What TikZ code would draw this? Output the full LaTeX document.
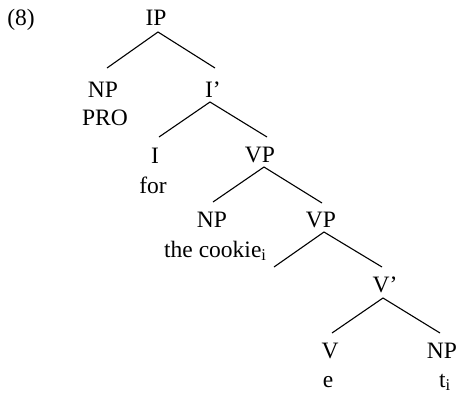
\documentclass[tikz,border=0pt]{standalone}
\usepackage{fontspec}
\setmainfont{Liberation Serif}
\begin{document}
\begin{tikzpicture}[x=1pt,y=-1pt,
  lab/.style={anchor=base, inner sep=0pt, font=\fontsize{23.5}{28}\selectfont},
  labw/.style={lab, anchor=base west},
  branch/.style={line width=1.1pt}]
\useasboundingbox (0,0) rectangle (459,397);

% example number
\node[lab] (num) at (21,25) {(8)};

% labels
\node[lab] (ip)   at (156,25)  {IP};
\node[lab] (np1)  at (103,97)  {NP};
\node[lab] (pro)  at (105,125) {PRO};
\node[lab] (ib)   at (213,97)  {I’};
\node[lab] (i)    at (155,163) {I};
\node[lab] (for)  at (153,193) {for};
\node[lab] (vp1)  at (260,162) {VP};
\node[lab] (np2)  at (212,227) {NP};
\node[labw] (cookie) at (164,257) {the cookie\textsubscript{i}};
\node[lab] (vp2)  at (321,227) {VP};
\node[lab] (vb)   at (385,292) {V’};
\node[lab] (v)    at (330,358) {V};
\node[lab] (np3)  at (442,358) {NP};
\node[lab] (e)    at (328,387) {e};
\node[labw] (t)   at (439,387) {t\textsubscript{i}};

% branch end points
\coordinate (ip-b)  at (158,32);
\coordinate (np1-t) at (107,68);
\coordinate (ib-t)  at (215,68);
\coordinate (ib-b)  at (210,102);
\coordinate (i-t)   at (159,137);
\coordinate (vp1-t) at (267,137);
\coordinate (vp1-b) at (264,167);
\coordinate (np2-t) at (213,202);
\coordinate (vp2-t) at (322,203);
\coordinate (vp2-b) at (324,232);
\coordinate (gap)   at (274,267);
\coordinate (vb-t)  at (382,267);
\coordinate (vb-b)  at (383,298);
\coordinate (v-t)   at (332,333);
\coordinate (np3-t) at (440,333);

% branches
\draw[branch] (np1-t) -- (ip-b) -- (ib-t);
\draw[branch] (i-t) -- (ib-b) -- (vp1-t);
\draw[branch] (np2-t) -- (vp1-b) -- (vp2-t);
\draw[branch] (gap) -- (vp2-b) -- (vb-t);
\draw[branch] (v-t) -- (vb-b) -- (np3-t);
\end{tikzpicture}
\end{document}
